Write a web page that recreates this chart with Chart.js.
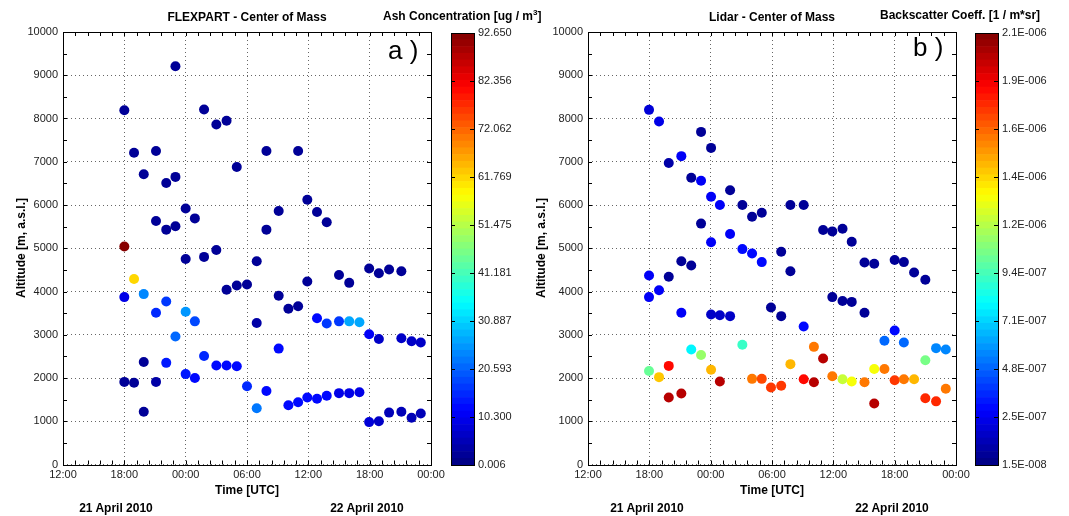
<!DOCTYPE html>
<html>
<head>
<meta charset="utf-8">
<script src="https://cdn.jsdelivr.net/npm/chart.js@4"></script>
<style>
  body { margin:0; background:#fff; }
  #wrap { position:relative; width:1069px; height:516px; overflow:hidden; font-family:"Liberation Sans", Arial, sans-serif; }
  canvas { position:absolute; top:0; }
  .lbl { position:absolute; font-weight:bold; font-size:12px; color:#000; white-space:nowrap; }
  .c { transform:translateX(-50%); }
  .rot { transform:translate(-50%,-50%) rotate(-90deg); }
  .tag { position:absolute; font-size:26px; color:#000; white-space:nowrap; }
</style>
</head>
<body>
<div id="wrap">
  <canvas id="flex" width="460" height="516" style="left:0"></canvas>
  <canvas id="flexBar" width="100" height="516" style="left:440px"></canvas>
  <canvas id="lidar" width="460" height="516" style="left:525px"></canvas>
  <canvas id="lidarBar" width="105" height="516" style="left:964px"></canvas>

  <div class="lbl c" style="left:247px;top:10px">FLEXPART - Center of Mass</div>
  <div class="lbl" style="left:383px;top:8px">Ash Concentration [ug / m<sup style="font-size:8px">3</sup>]</div>
  <div class="lbl c" style="left:772px;top:10px">Lidar - Center of Mass</div>
  <div class="lbl" style="left:880px;top:8px">Backscatter Coeff. [1 / m*sr]</div>

  <div class="tag" style="left:388px;top:35px">a )</div>
  <div class="tag" style="left:913px;top:32px">b )</div>

  <div class="lbl rot" style="left:21px;top:248px">Altitude [m, a.s.l.]</div>
  <div class="lbl rot" style="left:541px;top:248px">Altitude [m, a.s.l.]</div>
  <div class="lbl c" style="left:247px;top:483px">Time [UTC]</div>
  <div class="lbl c" style="left:772px;top:483px">Time [UTC]</div>
  <div class="lbl c" style="left:116px;top:501px">21 April 2010</div>
  <div class="lbl c" style="left:367px;top:501px">22 April 2010</div>
  <div class="lbl c" style="left:647px;top:501px">21 April 2010</div>
  <div class="lbl c" style="left:892px;top:501px">22 April 2010</div>
</div>

<script>
// time = hours after 12:00 UTC, 21 April 2010
const timeTickLabels = ['12:00', '18:00', '00:00', '06:00', '12:00', '18:00', '00:00'];

// FLEXPART: time, altitude, ash concentration [ug/m3]
const flexTime = [
  6.0, 6.0, 6.0, 6.0,
  6.95, 6.95, 6.95,
  7.9, 7.9, 7.9, 7.9,
  9.1, 9.1, 9.1, 9.1,
  10.1, 10.1, 10.1, 10.1,
  11.0, 11.0, 11.0, 11.0,
  12.0, 12.0, 12.0, 12.0,
  12.9, 12.9, 12.9,
  13.8, 13.8, 13.8,
  15.0, 15.0, 15.0,
  16.0, 16.0, 16.0,
  17.0, 17.0, 17.0,
  18.0, 18.0,
  18.95, 18.95, 18.95,
  19.9, 19.9, 19.9,
  21.1, 21.1, 21.1,
  22.05, 22.05,
  23.0, 23.0, 23.0,
  23.9, 23.9, 23.9,
  24.85, 24.85, 24.85,
  25.8, 25.8, 25.8,
  27.0, 27.0, 27.0,
  28.0, 28.0, 28.0,
  29.0, 29.0,
  29.95, 29.95, 29.95,
  30.9, 30.9, 30.9,
  31.9, 31.9,
  33.1, 33.1, 33.1,
  34.1, 34.1,
  35.0, 35.0
];
const flexAlt = [
  8190, 5040, 3870, 1910,
  7210, 4290, 1890,
  6710, 3940, 2370, 1220,
  7250, 5630, 3510, 1910,
  6510, 5430, 3770, 2350,
  9210, 6650, 5510, 2960,
  5920, 4750, 3530, 2090,
  5690, 3310, 2000,
  8210, 4800, 2510,
  7860, 4960, 2290,
  7950, 4040, 2290,
  6880, 4140, 2270,
  4160, 1810,
  4700, 3270, 1300,
  7250, 5430, 1700,
  5860, 3900, 2680,
  3600, 1370,
  7250, 3660, 1440,
  6120, 4230, 1550,
  5840, 3380, 1520,
  5600, 3260, 1590,
  4380, 3310, 1650,
  4200, 3310, 1650,
  3290, 1670,
  4530, 3010, 980,
  4420, 2900, 1000,
  4510, 1200,
  4470, 2920, 1220,
  2850, 1080,
  2820, 1180
];
const flexAsh = [
  1.5, 91.5, 9, 1.5,
  1.5, 62, 1.5,
  1.5, 24, 1.5, 1.5,
  1.5, 1.5, 15, 3,
  1.5, 1.5, 17, 14,
  1.5, 1.5, 1.5, 21,
  1.5, 1.5, 26, 14,
  1.5, 18, 13,
  1.5, 1.5, 15,
  1.5, 1.5, 13,
  1.5, 1.5, 13,
  1.5, 1.5, 13,
  1.5, 15,
  1.5, 4, 22,
  1.5, 1.5, 13,
  1.5, 1.5, 12,
  1.5, 12,
  1.5, 1.5, 12,
  1.5, 1.5, 12,
  1.5, 13, 12,
  1.5, 16, 12,
  1.5, 16, 10,
  1.5, 27, 10,
  27, 10,
  1.5, 11, 8,
  1.5, 7, 7,
  1.5, 5,
  1.5, 7, 5,
  6, 5,
  6, 5
];

// Lidar: time, altitude, backscatter coefficient [1/(m*sr)]
const lidarTime = [
  5.97, 5.97, 5.97, 5.97,
  6.95, 6.95, 6.95,
  7.9, 7.9, 7.9, 7.9,
  9.13, 9.13, 9.13, 9.13,
  10.1, 10.1, 10.1,
  11.06, 11.06, 11.06, 11.06,
  12.04, 12.04, 12.04, 12.04, 12.04,
  12.9, 12.9, 12.9,
  13.9, 13.9, 13.9,
  15.1, 15.1, 15.1,
  16.05, 16.05, 16.05,
  17.0, 17.0, 17.0,
  17.9, 17.9,
  18.9, 18.9, 18.9,
  19.8, 19.8, 19.8,
  21.1, 21.1, 21.1,
  22.1, 22.1,
  23.0, 23.0,
  23.9, 23.9, 23.9,
  24.9, 24.9, 24.9,
  25.8, 25.8, 25.8,
  27.05, 27.05, 27.05,
  28.0, 28.0, 28.0,
  29.0, 29.0,
  30.0, 30.0, 30.0,
  30.9, 30.9, 30.9,
  31.9, 31.9,
  33.0, 33.0, 33.0,
  34.05, 34.05,
  35.0, 35.0
];
const lidarAlt = [
  8200, 4370, 3870, 2160,
  7930, 4030, 2020,
  6970, 4340, 2280, 1550,
  7130, 4700, 3510, 1640,
  6630, 4600, 2660,
  7690, 6560, 5570, 2530,
  7320, 6190, 5140, 3470, 2190,
  6000, 3450, 1920,
  6340, 5330, 3430,
  6000, 4980, 2770,
  5730, 4880, 1980,
  5820, 4680, 1980,
  3630, 1780,
  4920, 3430, 1820,
  6000, 4470, 2320,
  6000, 3190, 1970,
  2720, 1900,
  5420, 2450,
  5390, 3870, 2040,
  5450, 3780, 1970,
  5150, 3760, 1920,
  4670, 3510, 1900,
  4640, 2210, 1410,
  2860, 2210,
  4730, 3100, 1950,
  4680, 2820, 1970,
  4440, 1970,
  4270, 2410, 1530,
  2690, 1460,
  2660, 1750
];
const lidarBsc = [
  2.0e-7, 2.6e-7, 2.6e-7, 1.0e-6,
  2.2e-7, 2.6e-7, 1.42e-6,
  1.0e-7, 5e-8, 1.82e-6, 2.0e-6,
  2.6e-7, 5e-8, 2.6e-7, 2.0e-6,
  5e-8, 5e-8, 7.9e-7,
  5e-8, 2.6e-7, 5e-8, 1.1e-6,
  5e-8, 2.6e-7, 2.6e-7, 1.5e-7, 1.45e-6,
  2.6e-7, 1.5e-7, 2.0e-6,
  5e-8, 2.6e-7, 1.5e-7,
  5e-8, 3.0e-7, 9.0e-7,
  5e-8, 3.0e-7, 1.6e-6,
  5e-8, 3.0e-7, 1.69e-6,
  5e-8, 1.72e-6,
  5e-8, 5e-8, 1.72e-6,
  5e-8, 5e-8, 1.48e-6,
  5e-8, 3.0e-7, 1.82e-6,
  1.58e-6, 2.0e-6,
  5e-8, 2.0e-6,
  5e-8, 5e-8, 1.58e-6,
  5e-8, 5e-8, 1.2e-6,
  5e-8, 5e-8, 1.3e-6,
  5e-8, 5e-8, 1.58e-6,
  5e-8, 1.3e-6, 2.0e-6,
  5.0e-7, 1.58e-6,
  5e-8, 3.0e-7, 1.72e-6,
  5e-8, 5.0e-7, 1.58e-6,
  5e-8, 1.45e-6,
  5e-8, 1.05e-6, 1.75e-6,
  5.5e-7, 1.75e-6,
  5.5e-7, 1.58e-6
];

const ashMin = 0.006, ashMax = 92.65;
const ashTickLabels = ['0.006', '10.300', '20.593', '30.887', '41.181', '51.475', '61.769', '72.062', '82.356', '92.650'];
const bscMin = 1.5e-8, bscMax = 2.1e-6;
const bscTickLabels = ['1.5E-008', '2.5E-007', '4.8E-007', '7.1E-007', '9.4E-007', '1.2E-006', '1.4E-006', '1.6E-006', '1.9E-006', '2.1E-006'];

const NLEV = 64;
function jet(t) {
  t = Math.min(1, Math.max(0, t));
  const c = v => Math.round(255 * Math.min(1, Math.max(0, v)));
  return 'rgb(' + c(1.5 - Math.abs(4 * t - 3)) + ',' + c(1.5 - Math.abs(4 * t - 2)) + ',' + c(1.5 - Math.abs(4 * t - 1)) + ')';
}
function levelColor(v, lo, hi) {
  let i = Math.floor((v - lo) / (hi - lo) * NLEV);
  i = Math.min(NLEV - 1, Math.max(0, i));
  return jet((i + 0.5) / NLEV);
}

const tickFont = { family: "'Liberation Sans', Arial, sans-serif", size: 11 };
const tickColor = '#222';

// box around the plot with short inward ticks on every side
const boxPlugin = {
  id: 'box',
  afterDraw(chart) {
    const { ctx, chartArea: a, scales } = chart;
    const o = chart.options.plugins.box;
    ctx.save();
    ctx.strokeStyle = '#000';
    ctx.lineWidth = 1;
    ctx.beginPath();
    if (o.xStep) {
      const x = scales.x;
      for (let v = x.min; v <= x.max + 1e-9; v += o.xStep) {
        const px = Math.round(x.getPixelForValue(v)) + 0.5;
        ctx.moveTo(px, a.bottom); ctx.lineTo(px, a.bottom - 4);
        ctx.moveTo(px, a.top); ctx.lineTo(px, a.top + 4);
      }
    }
    const y = scales.y;
    const yt = o.yValues || [];
    yt.forEach(v => {
      const py = Math.round(y.getPixelForValue(v)) + 0.5;
      ctx.moveTo(a.left, py); ctx.lineTo(a.left + 4, py);
      ctx.moveTo(a.right, py); ctx.lineTo(a.right - 4, py);
    });
    ctx.stroke();
    ctx.strokeRect(Math.round(a.left) + 0.5, Math.round(a.top) + 0.5, Math.round(a.right - a.left), Math.round(a.bottom - a.top));
    ctx.restore();
  }
};

function altTicks() {
  const out = [];
  for (let v = 0; v <= 10000; v += 500) out.push(v);
  return out;
}

function scatter(id, times, alts, vals, lo, hi) {
  const pts = times.map((t, i) => ({ x: t, y: alts[i] }));
  const cols = vals.map(v => levelColor(v, lo, hi));
  new Chart(document.getElementById(id), {
    type: 'scatter',
    data: { datasets: [{ data: pts, pointRadius: 5, pointHoverRadius: 5, pointBackgroundColor: cols, pointBorderColor: cols, pointBorderWidth: 0 }] },
    options: {
      responsive: false,
      animation: false,
      events: [],
      layout: { padding: { left: 0, top: 32, right: 29, bottom: 0 } },
      plugins: { legend: { display: false }, tooltip: { enabled: false }, box: { xStep: 1.2, yValues: altTicks() } },
      scales: {
        x: {
          type: 'linear', min: 0, max: 36,
          ticks: { stepSize: 6, autoSkip: false, maxRotation: 0, padding: 4, font: tickFont, color: tickColor, callback: (v, i) => timeTickLabels[i] },
          grid: { color: '#666', lineWidth: 1, drawTicks: false },
          border: { display: false, dash: [1, 3] },
          afterFit(s) { s.height = 51.5; }
        },
        y: {
          min: 0, max: 10000,
          ticks: { stepSize: 1000, padding: 5, font: tickFont, color: tickColor, callback: v => String(v) },
          grid: { color: '#666', lineWidth: 1, drawTicks: false },
          border: { display: false, dash: [1, 3] },
          afterFit(s) { s.width = 63; }
        }
      }
    },
    plugins: [boxPlugin]
  });
}

function colorbar(id, lo, hi, labels, yWidth) {
  const step = (hi - lo) / NLEV;
  const sets = [];
  for (let i = 0; i < NLEV; i++) {
    sets.push({ data: [[lo + i * step, lo + (i + 1) * step]], backgroundColor: jet((i + 0.5) / NLEV), borderWidth: 0, barPercentage: 1, categoryPercentage: 1, grouped: false });
  }
  const tickVals = labels.map((l, i) => lo + i * (hi - lo) / (labels.length - 1));
  new Chart(document.getElementById(id), {
    type: 'bar',
    data: { labels: [''], datasets: sets },
    options: {
      responsive: false,
      animation: false,
      events: [],
      layout: { padding: { left: 11, top: 33, right: 0, bottom: 51 } },
      plugins: { legend: { display: false }, tooltip: { enabled: false }, box: { yValues: tickVals } },
      scales: {
        x: { display: false },
        y: {
          position: 'right', min: lo, max: hi,
          afterBuildTicks(s) { s.ticks = tickVals.map(v => ({ value: v })); },
          ticks: { padding: 4, font: tickFont, color: tickColor, callback: (v, i) => labels[i] },
          grid: { display: false, drawTicks: false },
          border: { display: false },
          afterFit(s) { s.width = yWidth; }
        }
      }
    },
    plugins: [boxPlugin]
  });
}

scatter('flex', flexTime, flexAlt, flexAsh, ashMin, ashMax);
colorbar('flexBar', ashMin, ashMax, ashTickLabels, 66);
scatter('lidar', lidarTime, lidarAlt, lidarBsc, bscMin, bscMax);
colorbar('lidarBar', bscMin, bscMax, bscTickLabels, 71);
</script>
</body>
</html>
